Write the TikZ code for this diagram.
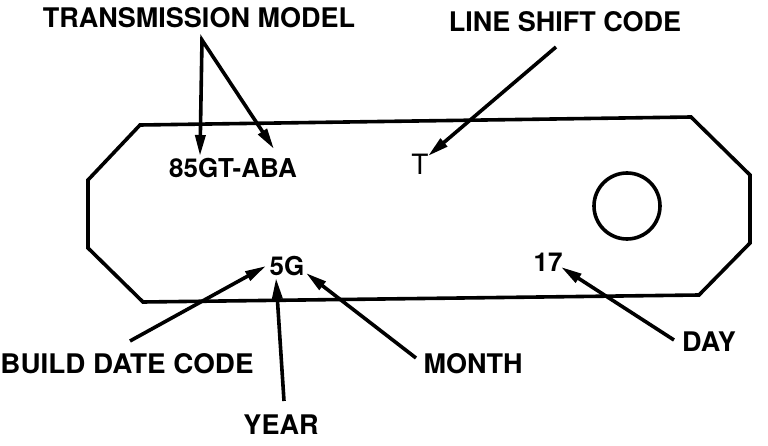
\documentclass[tikz,border=0pt]{standalone}
\usepackage{fontspec}
\setmainfont{TeX Gyre Heros}
\usetikzlibrary{arrows.meta}
\begin{document}
\begin{tikzpicture}[x=1pt,y=-1pt,
  lab/.style={inner sep=0pt,font=\fontsize{27}{27}\selectfont\bfseries},
  code/.style={inner sep=0pt,font=\fontsize{26}{26}\selectfont\bfseries},
  plate/.style={line width=3.6pt,line join=miter},
  ptr/.style={line width=3.6pt,-{Triangle[length=21pt,width=10pt]}},
  ptrboth/.style={line width=3.6pt,{Triangle[length=21pt,width=10pt]}-{Triangle[length=21pt,width=10pt]}}]
\useasboundingbox (0,0) rectangle (768,446);
% plate outline
\draw[plate] (140,125) -- (691,117) -- (750,175) -- (750,243) -- (699,295)
  -- (143,302) -- (88,248) -- (88,180) -- cycle;
\draw[line width=3.6pt] (627,206) circle (33);
% texts
\node[lab] (tm) at (199,18) {TRANSMISSION MODEL};
\node[lab] (lsc) at (565,22) {LINE SHIFT CODE};
\node[code] (model) at (233,168) {85GT-ABA};
\node[code,font=\fontsize{28}{28}\selectfont] (shift) at (420,164) {T};
\node[code] (date) at (287,266) {5G};
\node[code] (day17) at (548,262) {17};
\node[lab,xscale=1.03] (bdc) at (127,364) {BUILD DATE CODE};
\node[lab] (year) at (281,425) {YEAR};
\node[lab] (month) at (473,364) {MONTH};
\node[lab] (day) at (709,342) {DAY};
% arrow end points
\coordinate (tmA) at (200,156);
\coordinate (tmApex) at (202,40);
\coordinate (tmB) at (274,149);
\coordinate (lscS) at (556,47);
\coordinate (lscE) at (428,156);
\coordinate (bdcS) at (130,341);
\coordinate (bdcE) at (266,266);
\coordinate (yearS) at (284,401);
\coordinate (yearE) at (276,278);
\coordinate (monS) at (416,358);
\coordinate (monE) at (306,273);
\coordinate (dayS) at (674,340);
\coordinate (dayE) at (561,267);
% arrows
\draw[ptrboth,line join=miter] (tmA) -- (tmApex) -- (tmB);
\draw[ptr] (lscS) -- (lscE);
\draw[ptr] (bdcS) -- (bdcE);
\draw[ptr] (yearS) -- (yearE);
\draw[ptr] (monS) -- (monE);
\draw[ptr] (dayS) -- (dayE);
\end{tikzpicture}
\end{document}
